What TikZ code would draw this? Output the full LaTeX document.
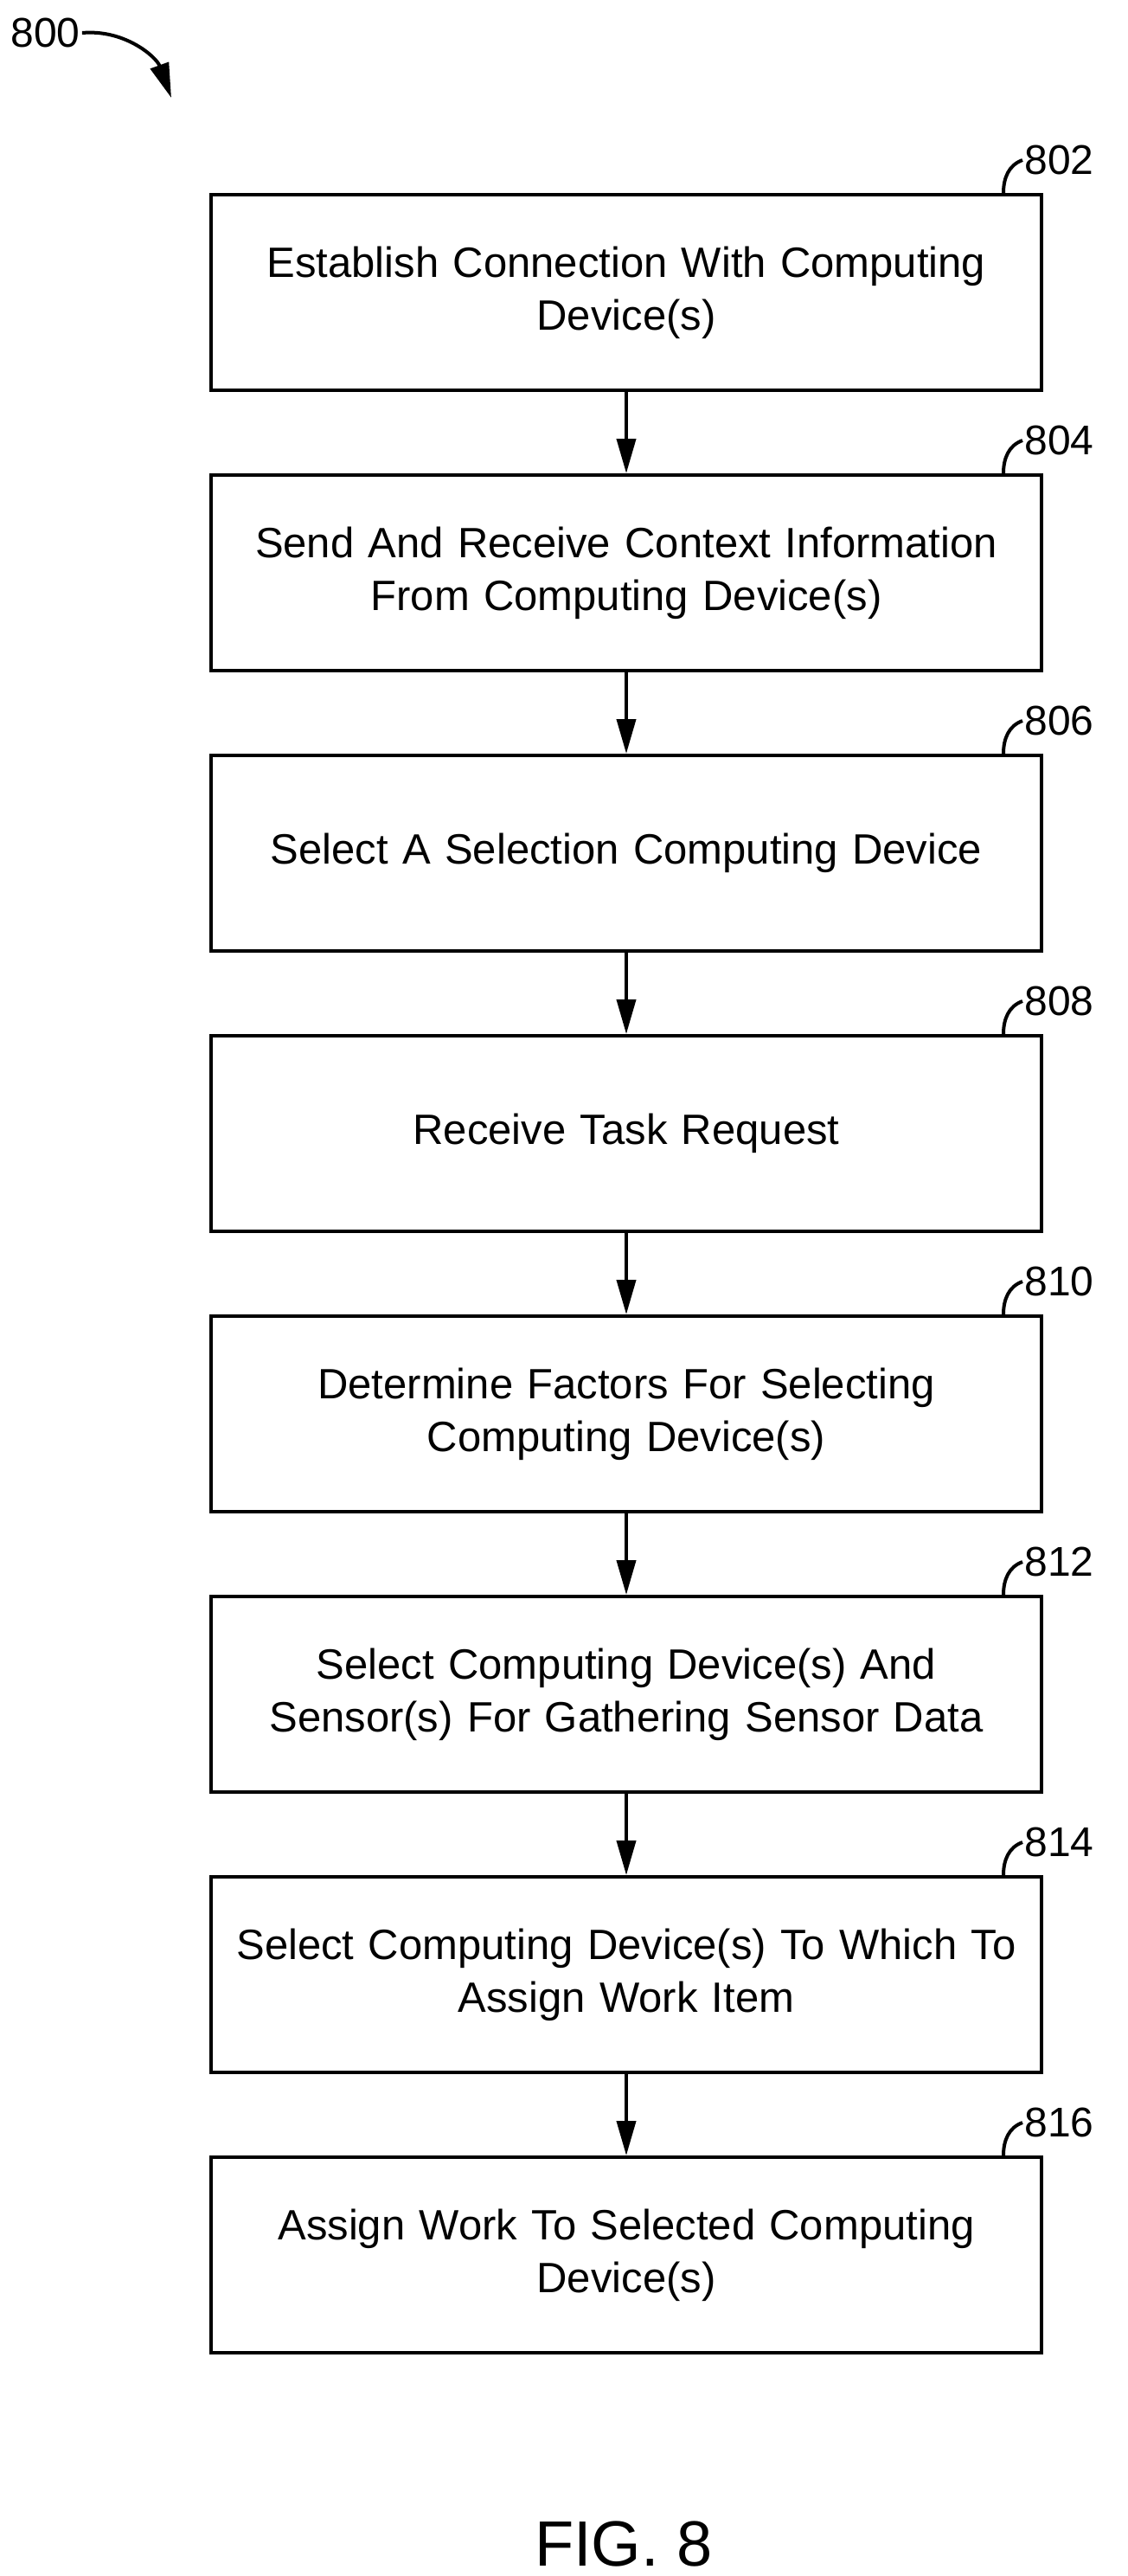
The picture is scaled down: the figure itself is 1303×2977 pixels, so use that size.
\documentclass[tikz,border=0pt]{standalone}
\usepackage{fontspec}
\setmainfont{Liberation Sans}
\usetikzlibrary{arrows.meta}
\tikzset{
    BX/.style ={rectangle,minimum width = 480pt, minimum height = 113pt, draw, line width=2pt, align=center, text width=470pt, font=\fontsize{24.5}{30.5}\selectfont},
    LB/.style ={anchor=west, inner sep=1pt, font=\fontsize{24}{28}\selectfont},
    AR/.style ={-{Triangle[length=20pt,width=11pt]}, line width=2pt}}
\begin{document}
\begin{tikzpicture}[x=0.5pt,y=-0.5pt]
        \useasboundingbox (0,0) rectangle (1303,2977);
        \node[BX] (1) at(724,338){Establish Connection With Computing\\Device(s)};
        \node[BX] (2) at(724,662){Send And Receive Context Information\\From Computing Device(s)};
        \node[BX] (3) at(724,986){Select A Selection Computing Device};
        \node[BX] (4) at(724,1310){Receive Task Request};
        \node[BX] (5) at(724,1634){Determine Factors For Selecting\\Computing Device(s)};
        \node[BX] (6) at(724,1958){Select Computing Device(s) And\\Sensor(s) For Gathering Sensor Data};
        \node[BX] (7) at(724,2282){Select Computing Device(s) To Which To\\Assign Work Item};
        \node[BX] (8) at(724,2606){Assign Work To Selected Computing\\Device(s)};
        \foreach \a/\b in {1/2,2/3,3/4,4/5,5/6,6/7,7/8}
            \draw[AR] (\a) -- (\b);
        % reference numerals
        \foreach \n/\t in {1/802,2/804,3/806,4/808,5/810,6/812,7/814,8/816}{
            \node[LB] (L\n) at ([xshift=-12pt,yshift=19pt]\n.north east){\t};
            \draw[line width=2pt] ([xshift=-23pt]\n.north east) to[out=90,in=200] (L\n.west);
        }
        \node[LB] (L0) at(10,38){800};
        \coordinate (A0) at(198,113);
        \draw[AR] (L0.east) to[out=5,in=110] (A0);
        \node[font=\fontsize{37}{42}\selectfont] (F) at(721,2940){FIG. 8};
\end{tikzpicture}
\end{document}
